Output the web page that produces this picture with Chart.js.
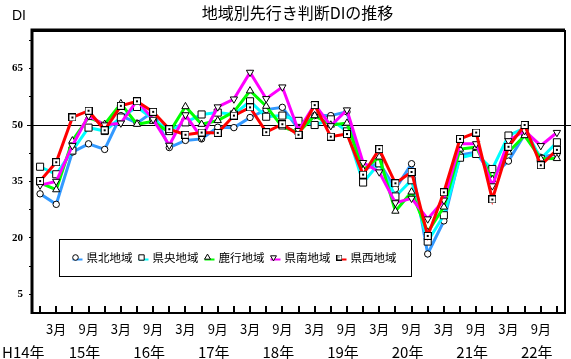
<!DOCTYPE html>
<html>
<head>
<meta charset="utf-8">
<script src="https://cdn.jsdelivr.net/npm/chart.js"></script>
<style>
html,body{margin:0;padding:0;background:#fff;}
canvas{display:block;}
</style>
</head>
<body>
<canvas id="c" width="571" height="359"></canvas>
<script>
const categories = ['12月',
  '3月','6月','9月','12月', '3月','6月','9月','12月', '3月','6月','9月','12月', '3月','6月','9月','12月',
  '3月','6月','9月','12月', '3月','6月','9月','12月', '3月','6月','9月','12月', '3月','6月','9月','12月'];
const yearLabels = ['H14年','15年','16年','17年','18年','19年','20年','21年','22年'];
const yTicks = [5, 12.5, 20, 27.5, 35, 42.5, 50, 57.5, 65, 72.5];
const yTickLabels = ['5','20','35','50','65'];
const shownMonths = ['3月','9月'];

const kenpoku = [31.7,28.9,42.8,45.0,43.5,52.5,50.5,53.5,44.0,45.9,46.3,49.4,49.3,52.0,54.1,54.7,48.9,52.5,52.5,53.5,38.0,40.0,33.0,39.7,15.7,24.5,42.0,42.8,36.5,40.4,47.5,41.4,42.3];
const kenou   = [38.9,36.9,43.2,49.3,48.4,52.0,54.8,51.6,48.5,50.7,52.8,53.3,52.8,56.3,52.2,52.5,51.1,50.0,51.5,48.3,34.7,39.8,31.0,35.3,19.0,26.0,41.3,42.3,38.3,47.2,49.2,41.0,45.4];
const rokkou  = [34.6,32.8,45.8,52.0,50.2,55.7,50.2,51.0,48.0,54.9,50.2,51.2,53.5,59.1,55.0,49.5,48.0,52.5,50.0,50.5,38.0,41.5,27.1,32.2,21.5,28.2,43.6,44.1,35.5,42.8,47.2,41.0,41.1];
const kennan  = [34.0,35.0,44.5,52.5,50.0,50.5,56.5,51.5,44.6,52.7,46.6,54.8,56.9,64.0,57.0,60.1,48.5,55.5,49.8,54.0,40.0,37.5,29.3,30.5,25.0,30.0,45.0,45.0,33.8,45.8,48.5,44.5,48.0];
const kensei  = [35.1,40.1,52.0,53.8,48.6,55.1,56.3,53.5,48.9,47.4,48.0,47.9,52.5,54.7,48.1,50.2,47.4,55.3,46.9,47.6,36.8,43.6,34.5,37.5,20.5,32.1,46.3,48.0,30.2,44.2,50.0,39.3,43.4];

const seriesNames = ['県北地域','県央地域','鹿行地域','県南地域','県西地域'];
const seriesData = [kenpoku, kenou, rokkou, kennan, kensei];
const seriesColors = ['#3399ff','#00ffff','#00ff00','#ff00ff','#ff0000'];

function makeDotSquare(size){
  const c = document.createElement('canvas');
  c.width = size; c.height = size;
  const g = c.getContext('2d');
  g.fillStyle = '#fff'; g.fillRect(0,0,size,size);
  g.strokeStyle = '#000'; g.lineWidth = 1; g.strokeRect(0.5,0.5,size-1,size-1);
  g.fillStyle = '#000';
  const d = size >= 8 ? 2 : 1;
  g.fillRect(Math.floor((size-d)/2), Math.floor((size-d)/2), d, d);
  return c;
}
const dotSquare = makeDotSquare(8);
const dotSquareSmall = makeDotSquare(6);

const styles = [
  {pointStyle:'circle', radius:3.2, rotation:0, legendRadius:2.8},
  {pointStyle:'rect', radius:5, rotation:0, legendRadius:3.8},
  {pointStyle:'triangle', radius:4.2, rotation:0, legendRadius:3.4},
  {pointStyle:'triangle', radius:4.2, rotation:180, legendRadius:3.4},
  {pointStyle:dotSquare, radius:4, rotation:0, legendRadius:3, legendStyle:dotSquareSmall}
];

const datasets = seriesData.map((d,i)=>({
  label: seriesNames[i],
  data: d,
  borderColor: seriesColors[i],
  backgroundColor: seriesColors[i],
  borderWidth: 3,
  pointStyle: styles[i].pointStyle,
  pointRadius: styles[i].radius,
  pointRotation: styles[i].rotation,
  pointBackgroundColor: '#fff',
  pointBorderColor: '#000',
  pointBorderWidth: 1,
  tension: 0,
  order: 5 - i
}));

const JP = '"Noto Sans CJK JP", "Noto Sans", sans-serif';

const decor = {
  id: 'decor',
  beforeDatasetsDraw(chart){
    const ctx = chart.ctx, a = chart.chartArea, x = chart.scales.x;
    ctx.save();
    ctx.strokeStyle = '#000';
    ctx.lineWidth = 2;
    categories.forEach((c,i)=>{
      const px = Math.round(x.getPixelForValue(i));
      ctx.beginPath();
      ctx.moveTo(px, a.bottom);
      ctx.lineTo(px, a.bottom - 7);
      ctx.stroke();
    });
    const y50 = Math.round(chart.scales.y.getPixelForValue(50)) + 0.5;
    ctx.lineWidth = 1;
    ctx.beginPath();
    ctx.moveTo(a.left - 5, y50);
    ctx.lineTo(chart.width, y50);
    ctx.stroke();
    ctx.restore();
  },
  afterDraw(chart){
    const ctx = chart.ctx, a = chart.chartArea, x = chart.scales.x;
    ctx.save();
    ctx.strokeStyle = '#000';
    ctx.lineWidth = 2;
    ctx.strokeRect(a.left, a.top, a.right - a.left, a.bottom - a.top);
    ctx.lineWidth = 3;
    ctx.beginPath();
    ctx.moveTo(a.left, a.bottom + 1);
    ctx.lineTo(a.left, a.top - 1);
    ctx.lineTo(a.right, a.top - 1);
    ctx.stroke();

    ctx.fillStyle = '#000';
    ctx.font = '16px ' + JP;
    ctx.textAlign = 'center';
    ctx.textBaseline = 'middle';
    ctx.fillText('地域別先行き判断DIの推移', (a.left + a.right)/2 - 1, 13);
    ctx.font = '14px "Liberation Sans", sans-serif';
    ctx.textAlign = 'left';
    ctx.fillText('DI', 12, 16);

    ctx.font = '15px ' + JP;
    const yy = a.bottom + 39;
    let year = 0;
    const sepIdx = [];
    categories.forEach((c,i)=>{
      if (c === '3月' && i > 0) year++;
      if (c === '9月') sepIdx[year] = i;
    });
    yearLabels.forEach((t,k)=>{
      if (sepIdx[k] === undefined) {
        ctx.textAlign = 'left';
        ctx.fillText(t, 2, yy);
      } else {
        ctx.textAlign = 'center';
        ctx.fillText(t, x.getPixelForValue(sepIdx[k]) - 4, yy);
      }
    });

    // legend
    const bx = a.left + 27.5, by = a.top + 208.5, bw = 352, bh = 37;
    ctx.fillStyle = '#fff';
    ctx.fillRect(bx, by, bw, bh);
    ctx.strokeStyle = '#000';
    ctx.lineWidth = 1;
    ctx.strokeRect(bx, by, bw, bh);
    ctx.font = '11.5px ' + JP;
    ctx.textBaseline = 'middle';
    ctx.textAlign = 'left';
    let cx = bx + 16;
    const cy = by + 18;
    chart.data.datasets.forEach((ds,i)=>{
      const st = styles[i];
      ctx.strokeStyle = ds.borderColor;
      ctx.lineWidth = 2;
      ctx.beginPath();
      ctx.moveTo(cx - 3, cy + 2);
      ctx.lineTo(cx + 7, cy + 2);
      ctx.stroke();
      ctx.save();
      ctx.fillStyle = '#fff';
      ctx.strokeStyle = '#000';
      ctx.lineWidth = 1;
      Chart.helpers.drawPoint(ctx, {
        pointStyle: st.legendStyle || st.pointStyle,
        radius: st.legendRadius,
        rotation: st.rotation,
        borderWidth: 1
      }, cx, cy);
      ctx.restore();
      ctx.fillStyle = '#000';
      const tx = cx + 11;
      ctx.fillText(ds.label, tx, cy);
      cx = tx + ctx.measureText(ds.label).width + 9;
    });
    ctx.restore();
  }
};

new Chart(document.getElementById('c'), {
  type: 'line',
  data: { labels: categories, datasets },
  options: {
    responsive: false,
    animation: false,
    devicePixelRatio: 1,
    layout: { padding: { top: 31, right: 4, left: 0, bottom: 0 } },
    plugins: { legend: { display: false }, title: { display: false }, tooltip: { enabled: false } },
    scales: {
      x: {
        type: 'category',
        offset: true,
        grid: { display: false, drawTicks: false },
        border: { display: false },
        ticks: {
          autoSkip: false, maxRotation: 0, minRotation: 0, padding: 8,
          color: '#000',
          font: { family: '"Noto Sans CJK JP", sans-serif', size: 13 },
          callback: (v, i) => shownMonths.includes(categories[i]) ? categories[i] : ''
        },
        afterFit: s => { s.height = 46; }
      },
      y: {
        min: 0, max: 75,
        afterBuildTicks: s => { s.ticks = yTicks.map(v => ({ value: v })); },
        grid: { drawOnChartArea: false, drawTicks: true, tickLength: 3, color: '#000', lineWidth: 1 },
        border: { display: false },
        ticks: {
          padding: 6, color: '#000',
          font: { family: '"Liberation Serif", serif', size: 11, weight: 'bold' },
          callback: v => yTickLabels.includes(String(v)) ? String(v) : ''
        },
        afterFit: s => { s.width = 32; }
      }
    }
  },
  plugins: [decor]
});
</script>
</body>
</html>
